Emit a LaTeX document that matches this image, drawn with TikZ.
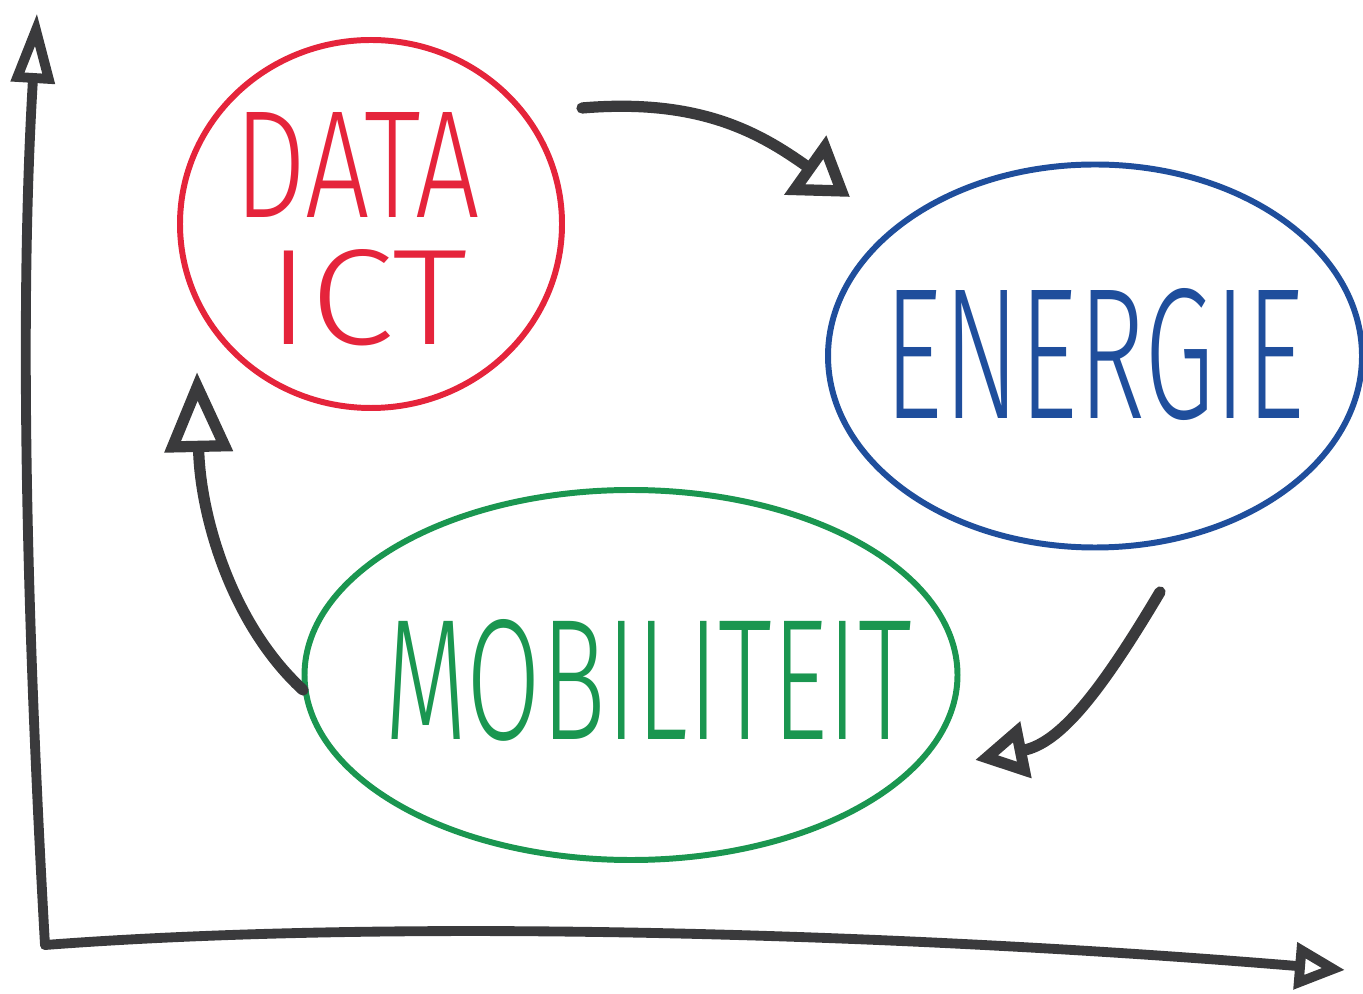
\documentclass[tikz,border=0pt]{standalone}
\usepackage{fontspec}
\setmainfont{Fira Sans}[UprightFont={* Light}]
\usetikzlibrary{shapes.geometric,arrows.meta}
\definecolor{inkred}{HTML}{E5243B}
\definecolor{inkblue}{HTML}{1F4E9C}
\definecolor{inkgreen}{HTML}{1A9650}
\definecolor{inkdark}{HTML}{3A3A3C}
\tikzset{
  bubble/.style={ellipse, draw, line width=1.7pt, inner sep=0pt},
  word/.style={inner sep=0pt},
  axisline/.style={draw=inkdark, line width=2.8pt, line cap=round, line join=round},
  flow/.style={draw=inkdark, line width=3.2pt, line cap=round, line join=round},
}
\begin{document}
\begin{tikzpicture}
\useasboundingbox (0,0) rectangle (13.63,9.93);
% axes
\coordinate (origin) at (0.45,0.48);
\coordinate (ytop) at (0.37,9.80);
\coordinate (xend) at (13.45,0.23);
\draw[axisline, -{Triangle[open,length=0.7cm,width=0.42cm]}] (origin) .. controls (0.25,4.0) and (0.2,7.0) .. (ytop);
\draw[axisline, -{Triangle[open,length=0.5cm,width=0.45cm]}] (origin) .. controls (4.0,0.75) and (9.0,0.6) .. (xend);
% bubbles
\node[bubble, draw=inkred, minimum width=3.82cm, minimum height=3.68cm] (data) at (3.71,7.69) {};
\node[bubble, draw=inkblue, minimum width=5.34cm, minimum height=3.83cm] (energie) at (10.95,6.37) {};
\node[bubble, draw=inkgreen, minimum width=6.53cm, minimum height=3.70cm] (mobiliteit) at (6.31,3.18) {};
% words
\node[word, text=inkred] (datatxt) at (3.57,8.28) {\resizebox{2.45cm}{1.05cm}{DATA}};
\node[word, text=inkred] (icttxt) at (3.68,6.95) {\resizebox{2.0cm}{0.95cm}{ICT}};
\node[word, text=inkblue] (energietxt) at (10.95,6.38) {\resizebox{4.2cm}{1.3cm}{ENERGIE}};
\node[word, text=inkgreen] (mobtxt) at (6.48,3.13) {\resizebox{5.27cm}{1.2cm}{MOBILITEIT}};
% flow arrows
\coordinate (a1s) at (5.82,8.85);
\coordinate (a1e) at (8.50,7.96);
\coordinate (a2s) at (11.60,4.01);
\coordinate (a2e) at (9.75,2.33);
\coordinate (a3s) at (3.03,3.03);
\coordinate (a3e) at (1.97,6.21);
\draw[flow, -{Triangle[open,length=0.55cm,width=0.7cm]}] (a1s) .. controls (7.0,8.95) and (7.6,8.6) .. (a1e);
\draw[flow, -{Triangle[open,length=0.52cm,width=0.55cm]}] (a2s) .. controls (11.0,3.0) and (10.6,2.5) .. (a2e);
\draw[flow, -{Triangle[open,length=0.8cm,width=0.66cm]}] (a3s) .. controls (2.3,3.7) and (2.0,4.8) .. (a3e);
\end{tikzpicture}
\end{document}
